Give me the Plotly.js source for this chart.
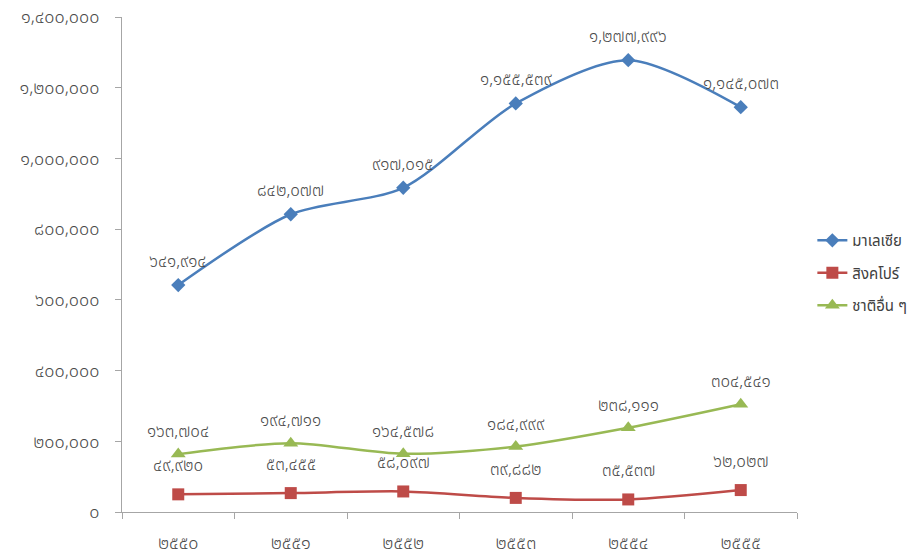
<!DOCTYPE html>
<html><head><meta charset="utf-8">
<script src="https://cdn.plot.ly/plotly-3.0.1.min.js"></script>
<style>body{margin:0;background:#fff}#c{width:920px;height:556px}</style>
</head><body><div id="c"></div>
<script>
const years = ['๒๕๕๐','๒๕๕๑','๒๕๕๒','๒๕๕๓','๒๕๕๔','๒๕๕๕'];
const seriesNames = ['มาเลเซีย','สิงคโปร์','ชาติอื่น ๆ'];
const malaysia = [641914, 842077, 917015, 1155539, 1277996, 1145073];
const singapore = [49920, 53455, 58097, 39882, 35537, 62027];
const others = [163704, 194711, 164578, 184999, 238111, 304541];
const yTickVals = [0,200000,400000,600000,800000,1000000,1200000,1400000];

const thaiDigits = '๐๑๒๓๔๕๖๗๘๙';
function toThai(n){
  return n.toLocaleString('en-US').replace(/[0-9]/g, d => thaiDigits[+d]);
}
const font = '"Noto Sans Thai","Noto Sans","DejaVu Sans",sans-serif';
const colors = ['#4a7ebb','#be4b48','#98b954'];
const symbols = ['diamond','square','triangle-up'];
const sizes = [11,12,13];
const all = [malaysia, singapore, others];
const shifts = [23, 28, 22];

const traces = all.map((vals,i)=>({
  x: years, y: vals, name: seriesNames[i], type:'scatter', mode:'lines+markers',
  legendgroup: 'g'+i,
  line:{color:colors[i], width:2.5, shape:'spline', smoothing:0.8},
  marker:{symbol:symbols[i], size:sizes[i], color:colors[i]}
}));

const annotations = [];
all.forEach((vals,i)=>vals.forEach((v,j)=>{
  annotations.push({x: years[j], y: v, text: toThai(v), showarrow:false,
    yshift: shifts[i], font:{family:font, size:17, color:'#4a4a4a', weight:300}});
}));

const layout = {
  width:920, height:556,
  margin:{l:122, r:123, t:17, b:44, autoexpand:false},
  paper_bgcolor:'#fff', plot_bgcolor:'#fff',
  showlegend:true,
  legend:{xref:'container', yref:'container', x:0.883, y:0.597, xanchor:'left', yanchor:'top',
    font:{family:font, size:15, color:'#404040'}, tracegroupgap:10, itemwidth:30},
  xaxis:{type:'category', range:[-0.5,5.5], showgrid:false, zeroline:false, automargin:false,
    showline:true, linecolor:'#a6a6a6', linewidth:1,
    ticks:'outside', ticklen:6, tickcolor:'#a6a6a6', tickson:'boundaries',
    tickfont:{family:font, size:18, color:'#4a4a4a', weight:300}, ticklabelstandoff:14},
  yaxis:{range:[0,1400000], tickvals:yTickVals, ticktext:yTickVals.map(toThai), automargin:false,
    showgrid:false, zeroline:false, showline:true, linecolor:'#a6a6a6', linewidth:1,
    ticks:'outside', ticklen:6, tickcolor:'#a6a6a6', ticklabelstandoff:12,
    tickfont:{family:font, size:18, color:'#4a4a4a', weight:300}},
  annotations: annotations,
  font:{family:font}
};
Plotly.newPlot('c', traces, layout, {displayModeBar:false, staticPlot:true});
</script></body></html>
